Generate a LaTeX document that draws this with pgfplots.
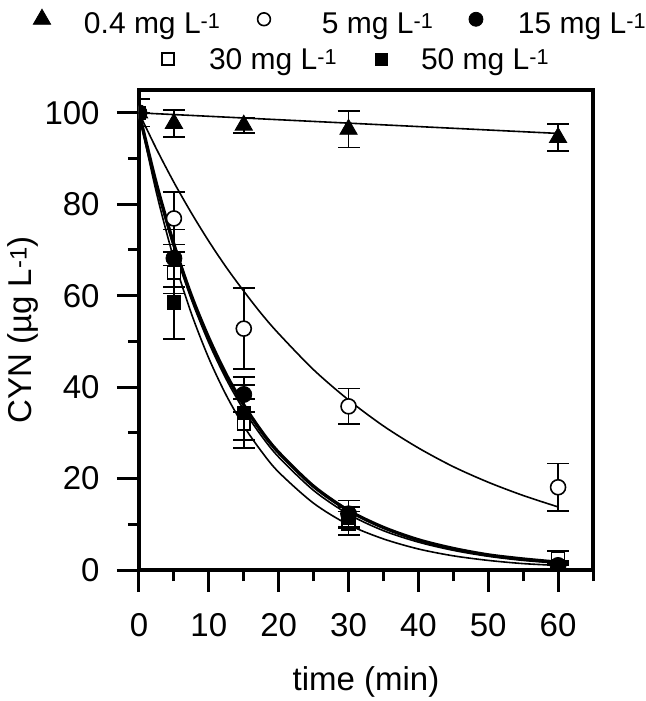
\documentclass[border=0pt]{standalone}
\usepackage{fontspec}
\setmainfont{Liberation Sans}
\usepackage{pgfplots}
\usepackage{pgfplotstable}
\pgfplotsset{compat=1.18}
\newcommand\supL{\raisebox{2.4pt}{\fontsize{10.8}{12}\selectfont -1}}
\newcommand\supA{\raisebox{2.7pt}{\fontsize{11.9}{13}\selectfont -1}}
\newcommand\lstrut{\rule{0pt}{12pt}\rule[-4pt]{0pt}{4pt}}

\pgfplotstableread{
t c e
0 100 3
5 97.7 3
15 97.3 1.7
30 96.4 4
60 94.6 3
}\triA
\pgfplotstableread{
t c e
0 100 0
5 76.9 5.7
15 52.8 8.9
30 35.8 3.9
60 18.1 5.2
}\circO
\pgfplotstableread{
t c e
0 100 0
5 68.2 6.3
15 38.4 3.8
30 12.3 2.9
60 1.0 1.0
}\circF
\pgfplotstableread{
t c e
0 100 0
5 65.0 4.5
15 32.0 5.4
30 10.2 2.6
60 2.6 1.5
}\sqO
\pgfplotstableread{
t c e
0 100 0
5 58.6 8.0
15 34.4 6.0
30 11.5 2.3
60 0.8 0.8
}\sqF

\begin{document}
\fontsize{16.5}{19}\selectfont
\begin{tikzpicture}
\useasboundingbox (-69.5pt,-65.5pt) rectangle (253.5pt,285pt);
\begin{axis}[
  scale only axis, width=227pt, height=240pt,
  xmin=0, xmax=65, ymin=0, ymax=105,
  xtick={0,10,...,60}, ytick={0,20,...,100},
  minor xtick={5,15,...,65}, minor ytick={10,30,...,90},
  tick align=outside, tick pos=left,
  major tick length=11pt, minor tick length=5.5pt,
  every tick/.append style={black, line width=1.5pt},
  axis line style={line width=2pt},
  clip marker paths=true,
  /pgf/number format/assume math mode=true,
  tick label style={font=\fontsize{16.5}{19}\selectfont},
  xticklabel style={yshift=-5pt},
  yticklabel style={xshift=-3pt},
  label style={font=\fontsize{16.5}{19}\selectfont},
  xlabel={time (min)},
  ylabel={CYN (µg L\supA)},
  every axis x label/.style={at={(axis description cs:0.5,-0.25)}, anchor=base},
  every axis y label/.style={at={(axis description cs:-0.2357,0.5)}, rotate=90, anchor=base},
  legend cell align=left,
  legend columns=3,
  legend style={draw=none, fill=none, inner sep=0pt, outer sep=0pt,
    font=\fontsize{15}{18}\selectfont, column sep=0pt, nodes={inner sep=0pt},
    at={(axis description cs:-0.2357,1.1375)}, anchor=west},
  legend image code/.code={\draw[#1] plot coordinates {(0pt,2.5pt)};\path[draw=none,fill=none] (-5pt,-5pt) rectangle (5pt,5pt);},
  error bars/error bar style={line width=0.8pt},
  error bars/error mark options={rotate=90, line width=0.9pt, mark size=5.5pt},
]
% fitted curves
\addplot[forget plot, black, line width=0.8pt] coordinates {(0,100) (60,95.5)};
\addplot[forget plot, black, line width=0.8pt, smooth] coordinates {(0,100)(2.5,92.1)(5,84.8)(7.5,78.1)(10,71.9)(12.5,66.2)(15,61.0)(17.5,56.1)(20,51.7)(25,43.8)(30,37.2)(35,31.5)(40,26.7)(45,22.6)(50,19.2)(55,16.3)(60,13.8)};
\addplot[forget plot, black, line width=0.8pt, smooth] coordinates {(0,100)(2.5,82.5)(5,68.0)(7.5,56.1)(10,46.3)(12.5,38.2)(15,31.5)(17.5,26.0)(20,21.4)(25,14.6)(30,9.9)(35,6.8)(40,4.6)(45,3.1)(50,2.1)(55,1.4)(60,1.0)};
\addplot[forget plot, black, line width=0.8pt, smooth] coordinates {(0,100)(2.5,84.0)(5,70.5)(7.5,59.2)(10,49.7)(12.5,41.7)(15,35.0)(17.5,29.4)(20,24.7)(25,17.4)(30,12.2)(35,8.6)(40,6.1)(45,4.3)(50,3.0)(55,2.1)(60,1.5)};
\addplot[forget plot, black, line width=1.7pt, smooth] coordinates {(0,100)(2.5,84.4)(5,71.2)(7.5,60.0)(10,50.7)(12.5,42.7)(15,36.1)(17.5,30.4)(20,25.7)(25,18.3)(30,13.0)(35,9.3)(40,6.6)(45,4.7)(50,3.3)(55,2.4)(60,1.7)};
% data
\addplot[forget plot, black, only marks, mark=triangle*, mark size=5pt,
  error bars/.cd, y dir=both, y explicit] table[x=t, y=c, y error=e] {\triA};
\addplot[forget plot, black, only marks, mark=*, mark size=3.75pt, mark options={fill=white, line width=0.8pt},
  error bars/.cd, y dir=both, y explicit] table[x=t, y=c, y error=e] {\circO};
\addplot[forget plot, black, only marks, mark=square*, mark size=3.2pt, mark options={fill=white, line width=0.8pt},
  error bars/.cd, y dir=both, y explicit] table[x=t, y=c, y error=e] {\sqO};
\addplot[forget plot, black, only marks, mark=*, mark size=4pt,
  error bars/.cd, y dir=both, y explicit] table[x=t, y=c, y error=e] {\circF};
\addplot[forget plot, black, only marks, mark=square*, mark size=3.4pt,
  error bars/.cd, y dir=both, y explicit] table[x=t, y=c, y error=e] {\sqF};
% legend row 1
\addlegendimage{black, only marks, mark=triangle*, mark size=5pt}
\addlegendentry{\makebox[101pt][l]{\lstrut\hspace*{16pt}0.4 mg L\supL}}
\addlegendimage{black, only marks, mark=*, mark size=3.2pt, mark options={fill=white, line width=0.8pt}}
\addlegendentry{\makebox[96pt][l]{\lstrut\hspace*{24pt}5 mg L\supL}}
\addlegendimage{black, only marks, mark=*, mark size=3.5pt}
\addlegendentry{\lstrut\hspace*{16pt}15 mg L\supL}
\end{axis}
\begin{axis}[
  scale only axis, width=227pt, height=240pt,
  xmin=0, xmax=65, ymin=0, ymax=105, hide axis,
  legend cell align=left,
  legend columns=2,
  legend style={draw=none, fill=none, inner sep=0pt, outer sep=0pt,
    font=\fontsize{15}{18}\selectfont, column sep=0pt, nodes={inner sep=0pt},
    at={(axis description cs:0.04185,1.0625)}, anchor=west},
  legend image code/.code={\draw[#1] plot coordinates {(0pt,0.5pt)};\path[draw=none,fill=none] (-5pt,-5pt) rectangle (5pt,5pt);},
]
\addplot[forget plot, draw=none] coordinates {(0,0)};
\addlegendimage{black, only marks, mark=square*, mark size=2.9pt, mark options={fill=white, line width=0.8pt}}
\addlegendentry{\makebox[96.5pt][l]{\lstrut\hspace*{15.5pt}30 mg L\supL}}
\addlegendimage{black, only marks, mark=square*, mark size=3pt}
\addlegendentry{\lstrut\hspace*{15pt}50 mg L\supL}
\end{axis}
\end{tikzpicture}
\end{document}
